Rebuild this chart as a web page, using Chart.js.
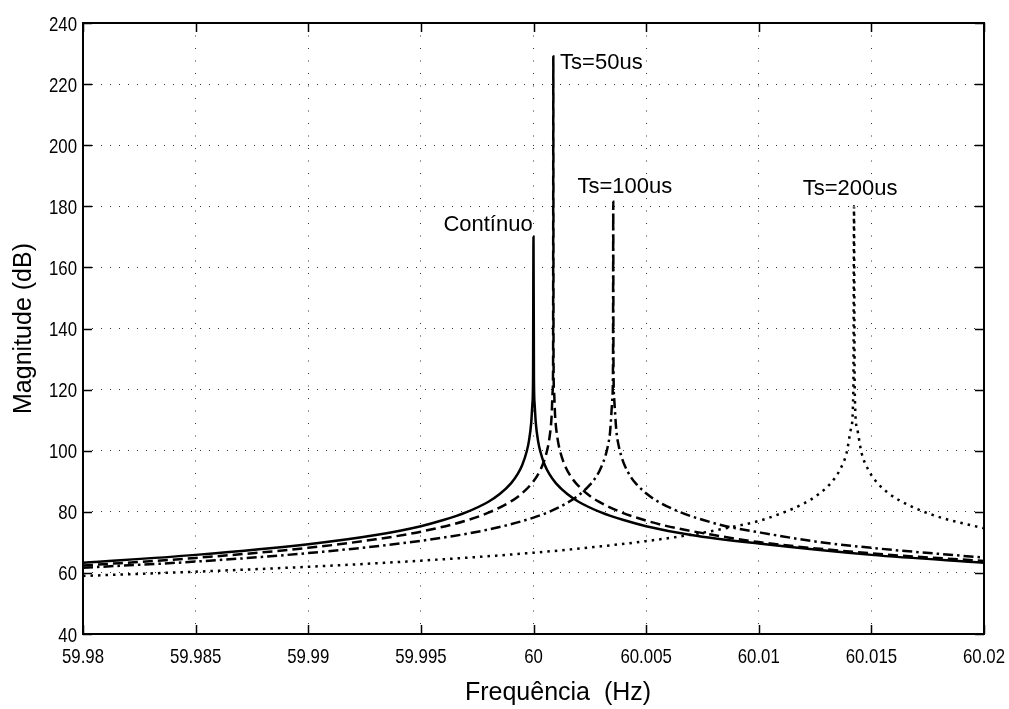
<!DOCTYPE html>
<html>
<head>
<meta charset="utf-8">
<script src="https://cdn.jsdelivr.net/npm/chart.js@4.4.1/dist/chart.umd.min.js"></script>
<style>
  html, body { margin: 0; padding: 0; background: #ffffff; }
  canvas { display: block; }
</style>
</head>
<body>
<canvas id="chart" width="1009" height="709"></canvas>
<script>
// Frequency response magnitude near 60 Hz: continuous resonator vs. discretised versions

// Continuous (solid)
const contFreq = [59.98, 59.985, 59.99, 59.993, 59.995, 59.996, 59.997, 59.998, 59.9985, 59.999,
  59.9993, 59.9995, 59.9997, 59.9998, 59.9999, 59.99995, 59.99998, 60.0, 60.00002, 60.00005,
  60.0001, 60.0002, 60.0003, 60.0005, 60.0007, 60.001, 60.0015, 60.002, 60.003, 60.004,
  60.005, 60.007, 60.01, 60.015, 60.02];
const contMag = [63.3, 65.9, 69.4, 72.4, 75.3, 77.3, 79.8, 83.3, 85.8, 89.3,
  92.4, 95.3, 99.8, 103.3, 109.3, 115.3, 123.3, 170, 123.3, 115.3,
  109.3, 103.3, 99.8, 95.3, 92.4, 89.3, 85.8, 83.3, 79.8, 77.3,
  75.3, 72.4, 69.6, 65.9, 63.3];

// Ts = 50 us (dashed)
const ts50Freq = [59.98, 59.985, 59.99, 59.993, 59.995, 59.997, 59.998, 59.999, 59.9995, 60.0,
  60.0003, 60.0005, 60.0006, 60.0007, 60.0008, 60.00085, 60.00087, 60.00088, 60.00089, 60.00091,
  60.00096, 60.00106, 60.00118, 60.00138, 60.00168, 60.00188, 60.00238, 60.00288, 60.00388, 60.00488,
  60.00588, 60.008, 60.01, 60.015, 60.02];
const ts50Mag = [62.4, 64.9, 68.2, 71.0, 73.5, 77.1, 79.7, 83.4, 86.1, 90.0,
  93.6, 97.3, 100.0, 103.8, 110.8, 119.4, 128.9, 229, 129.4, 119.9,
  111.3, 104.3, 99.9, 95.4, 91.3, 89.4, 85.9, 83.4, 79.9, 77.4,
  75.4, 72.4, 70.1, 66.4, 63.9];

// Ts = 100 us (dash-dot)
const ts100Freq = [59.98, 59.985, 59.99, 59.995, 59.998, 60.0, 60.001, 60.002, 60.0025, 60.0028,
  60.003, 60.0032, 60.0033, 60.0034, 60.0035, 60.00353, 60.00354, 60.00355, 60.00358, 60.00368,
  60.00378, 60.00388, 60.00404, 60.00434, 60.00454, 60.00504, 60.00554, 60.00654, 60.00754, 60.00854,
  60.01, 60.0125, 60.015, 60.02];
const ts100Mag = [61.7, 63.7, 66.5, 70.5, 74.2, 78.1, 81.0, 85.4, 88.8, 91.7,
  94.5, 98.5, 101.5, 106.2, 117.1, 129.1, 181.5, 129.3, 117.3, 106.4,
  101.7, 98.7, 95.3, 91.2, 89.3, 85.8, 83.3, 79.8, 77.3, 75.3,
  73.3, 70.3, 68.2, 65.0];

// Ts = 200 us (dotted)
const ts200Freq = [59.98, 59.985, 59.99, 59.995, 60.0, 60.003, 60.005, 60.007, 60.009, 60.01,
  60.011, 60.012, 60.0127, 60.0132, 60.0136, 60.0139, 60.0141, 60.0142, 60.01423, 60.01426,
  60.01436, 60.01456, 60.01486, 60.01526, 60.01576, 60.01623, 60.01723, 60.01823, 60.02];
const ts200Mag = [59.0, 60.4, 62.0, 64.0, 66.6, 68.7, 70.4, 72.5, 75.3, 77.0,
  79.5, 82.7, 86.0, 89.4, 93.7, 99.3, 107.4, 120.2, 180, 120.3,
  107.5, 99.4, 93.8, 89.5, 86.1, 83.8, 80.3, 77.8, 74.6];

// Axis ticks
const xTickValues = [59.98, 59.985, 59.99, 59.995, 60, 60.005, 60.01, 60.015, 60.02];
const xTickLabels = ['59.98', '59.985', '59.99', '59.995', '60', '60.005', '60.01', '60.015', '60.02'];
const yTickValues = [40, 60, 80, 100, 120, 140, 160, 180, 200, 220, 240];
const yTickLabels = ['40', '60', '80', '100', '120', '140', '160', '180', '200', '220', '240'];

// Curve labels and axis titles
const curveLabels = ['Contínuo', 'Ts=50us', 'Ts=100us', 'Ts=200us'];
const xTitle = 'Frequência  (Hz)';
const yTitle = 'Magnitude (dB)';

const toPoints = (xs, ys) => xs.map((x, i) => ({ x: x, y: ys[i] }));

const REGULAR = "'Liberation Sans', Arial, Helvetica, sans-serif";

// label anchors in data units (left end of baseline)
const labelAnchors = [
  { x: 59.996,   y: 171.9 },
  { x: 60.00118, y: 224.8 },
  { x: 60.00195, y: 184.45 },
  { x: 60.01195, y: 183.7 }
];

// condensed text: Liberation Sans squeezed horizontally
function narrowText(ctx, txt, x, y, align) {
  const sx = 0.8;
  ctx.save();
  ctx.translate(x, y);
  ctx.scale(sx, 1);
  const w = ctx.measureText(txt).width;
  let ox = 0;
  if (align === 'right') ox = -w;
  else if (align === 'center') ox = -w / 2;
  ctx.textAlign = 'left';
  ctx.fillText(txt, ox, 0);
  ctx.restore();
}

const boxPlugin = {
  id: 'boxPlugin',
  afterDatasetsDraw(chart) {
    const { ctx, chartArea: a, scales } = chart;
    const xs = scales.x, ys = scales.y;
    const TICK = 9;
    ctx.save();
    ctx.strokeStyle = '#000';
    ctx.lineWidth = 1.5;
    ctx.setLineDash([]);
    ctx.beginPath();
    xs.ticks.forEach(t => {
      const px = Math.round(xs.getPixelForValue(t.value)) + 0.5;
      ctx.moveTo(px, a.bottom); ctx.lineTo(px, a.bottom - TICK);
      ctx.moveTo(px, a.top); ctx.lineTo(px, a.top + TICK);
    });
    ys.ticks.forEach(t => {
      const py = Math.round(ys.getPixelForValue(t.value)) + 0.5;
      ctx.moveTo(a.left, py); ctx.lineTo(a.left + TICK, py);
      ctx.moveTo(a.right, py); ctx.lineTo(a.right - TICK, py);
    });
    ctx.stroke();

    ctx.lineWidth = 2;
    ctx.strokeRect(a.left, a.top, a.right - a.left, a.bottom - a.top);

    // tick labels
    ctx.fillStyle = '#000';
    ctx.font = '21px ' + REGULAR;
    ctx.textBaseline = 'alphabetic';
    xs.ticks.forEach((t, i) => {
      narrowText(ctx, xTickLabels[i], xs.getPixelForValue(t.value), a.bottom + 29, 'center');
    });
    ys.ticks.forEach((t, i) => {
      narrowText(ctx, yTickLabels[i], a.left - 6, ys.getPixelForValue(t.value) + 7.5, 'right');
    });

    // curve labels
    ctx.font = '22px ' + REGULAR;
    ctx.textAlign = 'left';
    curveLabels.forEach((txt, i) => {
      const p = labelAnchors[i];
      ctx.fillText(txt, xs.getPixelForValue(p.x), ys.getPixelForValue(p.y));
    });

    // axis titles
    ctx.font = '25px ' + REGULAR;
    ctx.textAlign = 'center';
    ctx.fillText(xTitle, 558, 700);
    ctx.save();
    ctx.translate(31, (a.top + a.bottom) / 2);
    ctx.rotate(-Math.PI / 2);
    ctx.fillText(yTitle, 0, 0);
    ctx.restore();
    ctx.restore();
  }
};

const common = { borderColor: '#000', backgroundColor: '#000', borderWidth: 2.5,
  pointRadius: 0, fill: false, cubicInterpolationMode: 'monotone', borderCapStyle: 'butt' };

new Chart(document.getElementById('chart'), {
  type: 'line',
  data: {
    datasets: [
      Object.assign({ label: curveLabels[0], data: toPoints(contFreq, contMag), borderDash: [] }, common),
      Object.assign({ label: curveLabels[1], data: toPoints(ts50Freq, ts50Mag), borderDash: [10, 5] }, common),
      Object.assign({ label: curveLabels[2], data: toPoints(ts100Freq, ts100Mag), borderDash: [10, 4, 2.5, 4] }, common),
      Object.assign({ label: curveLabels[3], data: toPoints(ts200Freq, ts200Mag), borderDash: [2.5, 5] }, common)
    ]
  },
  options: {
    responsive: false,
    animation: false,
    devicePixelRatio: 1,
    layout: { padding: { top: 23, right: 25, left: 0, bottom: 0 } },
    plugins: { legend: { display: false }, tooltip: { enabled: false } },
    scales: {
      x: {
        type: 'linear',
        min: 59.98, max: 60.02,
        afterBuildTicks: s => { s.ticks = xTickValues.map(v => ({ value: v })); },
        afterFit: s => { s.height = 75; s.paddingLeft = 0; s.paddingRight = 0; },
        grid: { color: '#333', lineWidth: 1, drawTicks: false },
        border: { display: false, dash: [1, 11.5] },
        ticks: { display: false, autoSkip: false }
      },
      y: {
        type: 'linear',
        min: 40, max: 240,
        afterBuildTicks: s => { s.ticks = yTickValues.map(v => ({ value: v })); },
        afterFit: s => { s.width = 83; s.paddingTop = 0; s.paddingBottom = 0; },
        grid: { color: '#333', lineWidth: 1, drawTicks: false },
        border: { display: false, dash: [1, 8] },
        ticks: { display: false, autoSkip: false }
      }
    }
  },
  plugins: [boxPlugin]
});
</script>
</body>
</html>
